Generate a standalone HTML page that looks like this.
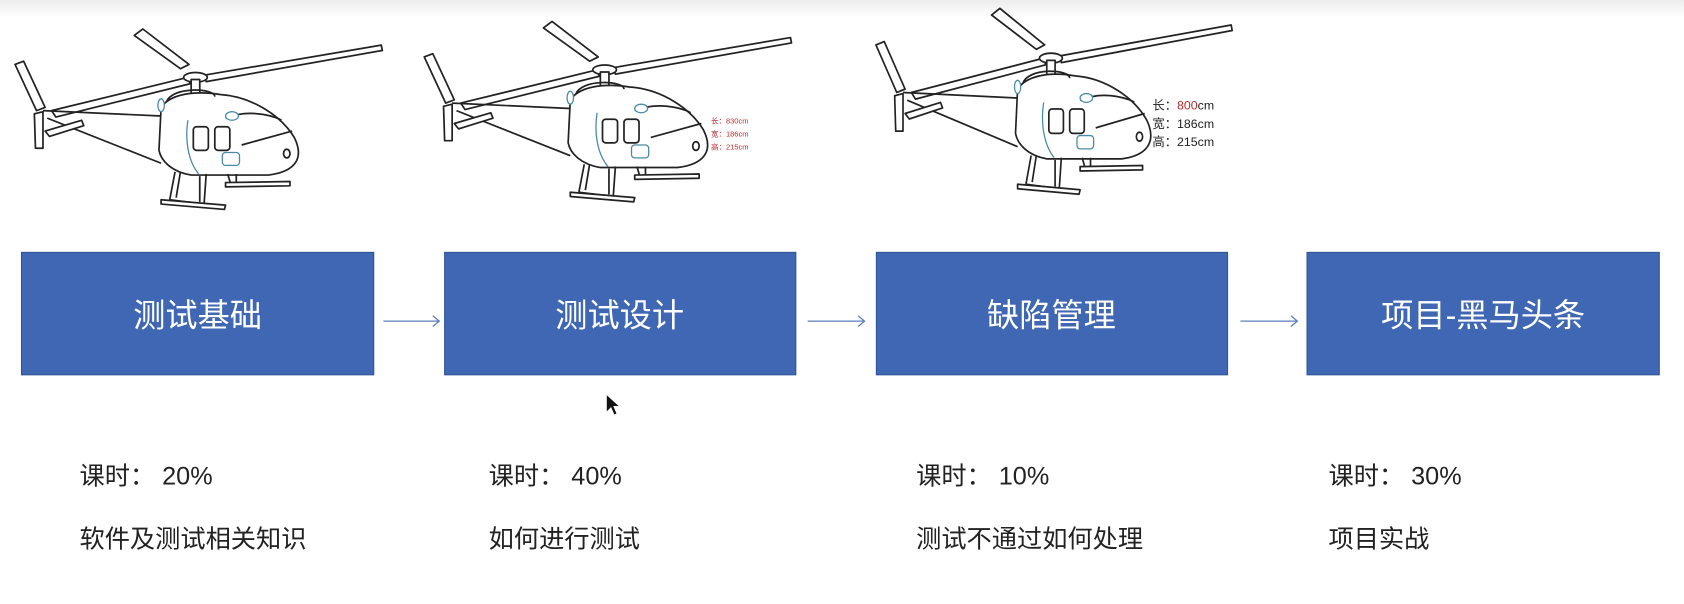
<!DOCTYPE html>
<html><head><meta charset="utf-8"><style>
html,body{margin:0;padding:0;background:#fff;width:1684px;height:604px;overflow:hidden}
svg{display:block}
text{font-family:"Liberation Sans","Noto Sans CJK SC",sans-serif}
</style></head><body>
<svg width="1684" height="604" viewBox="0 0 1568 562.4" xmlns="http://www.w3.org/2000/svg">
<defs>
<linearGradient id="tg" x1="0" y1="0" x2="0" y2="1"><stop offset="0" stop-color="#ececec"/><stop offset="1" stop-color="#ffffff"/></linearGradient>
<g id="heli" fill="#fff" stroke="#222" stroke-width="1.6" stroke-linejoin="round">
  <polygon points="48,103 175,72 177,78 52,109"/>
  <polygon points="190,70 355,42 356,47 192,76"/>
  <polygon points="125,33 133,27 176,60 168,64"/>
  <ellipse cx="182" cy="72" rx="11" ry="4.5"/>
  <rect x="178" y="74" width="8" height="16"/>
  <polygon points="14,60 22,57 42,100 34,103"/>
  <polygon points="32,106 40,104 40,138 33,138"/>
  <path d="M40,103 L150,108 M44,110 L150,152" fill="none"/>
  <polygon points="42,122 76,112 78,117 46,127"/>
  <path d="M150,100 C158,88 180,84 205,88 C235,90 262,108 274,128 C284,148 274,160 250,163 L178,163 C160,160 150,150 148,140 Z"/>
  <path d="M155,95 C160,80 200,82 200,90" fill="none"/>
  <path d="M210,110 C235,100 260,110 262,112 M225,135 L272,122" fill="none"/>
  <rect x="180" y="118" width="14" height="22" rx="3"/>
  <rect x="200" y="118" width="14" height="22" rx="3"/>
  <ellipse cx="150" cy="98" rx="3" ry="6" stroke="#4a8aa8" stroke-width="1.2"/>
  <ellipse cx="216" cy="108" rx="6" ry="4" stroke="#4a8aa8" stroke-width="1.2"/>
  <rect x="207" y="142" width="16" height="12" rx="3" stroke="#4a8aa8" stroke-width="1.2"/>
  <path d="M175,112 C172,130 175,150 185,162" fill="none" stroke="#4a8aa8" stroke-width="1.2"/>
  <ellipse cx="267" cy="143" rx="3" ry="4"/>
  <path d="M163,160 L158,186 L190,190 L192,162 M168,160 L164,184 M186,164 L186,188" fill="none"/>
  <polygon points="150,186 210,191 209,195 150,190"/>
  <path d="M212,162 L215,172 L220,172 L220,162" fill="none"/>
  <polygon points="210,170 270,169 270,173 210,174"/>
</g>
</defs>
<rect x="0" y="0" width="1568" height="16" fill="url(#tg)"/>
<use href="#heli"/>
<use href="#heli" transform="translate(381,-7)"/>
<use href="#heli" transform="translate(802,-20) scale(0.97,1.03)"/>
<g font-size="7" fill="#c0282d">
<text x="662" y="115">长：830cm</text>
<text x="662" y="127">宽：186cm</text>
<text x="662" y="139">高：215cm</text>
</g>
<g font-size="11.5" fill="#222">
<text x="1073" y="102">长：<tspan fill="#c0282d">800</tspan>cm</text>
<text x="1073" y="119">宽：186cm</text>
<text x="1073" y="136">高：215cm</text>
</g>
<g fill="#3f67b3" stroke="#2f5597" stroke-width="1">
<rect x="20" y="235" width="328" height="114"/>
<rect x="414" y="235" width="327" height="114"/>
<rect x="816" y="235" width="327" height="114"/>
<rect x="1217" y="235" width="328" height="114"/>
</g>
<g fill="#fff" font-size="30" text-anchor="middle">
<text x="184" y="304">测试基础</text>
<text x="577" y="304">测试设计</text>
<text x="979" y="304">缺陷管理</text>
<text x="1381" y="304">项目-黑马头条</text>
</g>
<g stroke="#5b7fb8" stroke-width="1.2" fill="none">
<path d="M357,299 H409 M403,294 L409,299 L403,304"/>
<path d="M752,299 H805 M799,294 L805,299 L799,304"/>
<path d="M1155,299 H1208 M1202,294 L1208,299 L1202,304"/>
</g>
<path d="M565,368 L565,383 L569,379 L572,386 L574,385 L571,378 L576,378 Z" fill="#111"/>
<g font-size="23.5" fill="#222">
<text x="74" y="451">课时： 20%</text>
<text x="74" y="510">软件及测试相关知识</text>
<text x="455" y="451">课时： 40%</text>
<text x="455" y="510">如何进行测试</text>
<text x="853" y="451">课时： 10%</text>
<text x="853" y="510">测试不通过如何处理</text>
<text x="1237" y="451">课时： 30%</text>
<text x="1237" y="510">项目实战</text>
</g>
</svg>
</body></html>
